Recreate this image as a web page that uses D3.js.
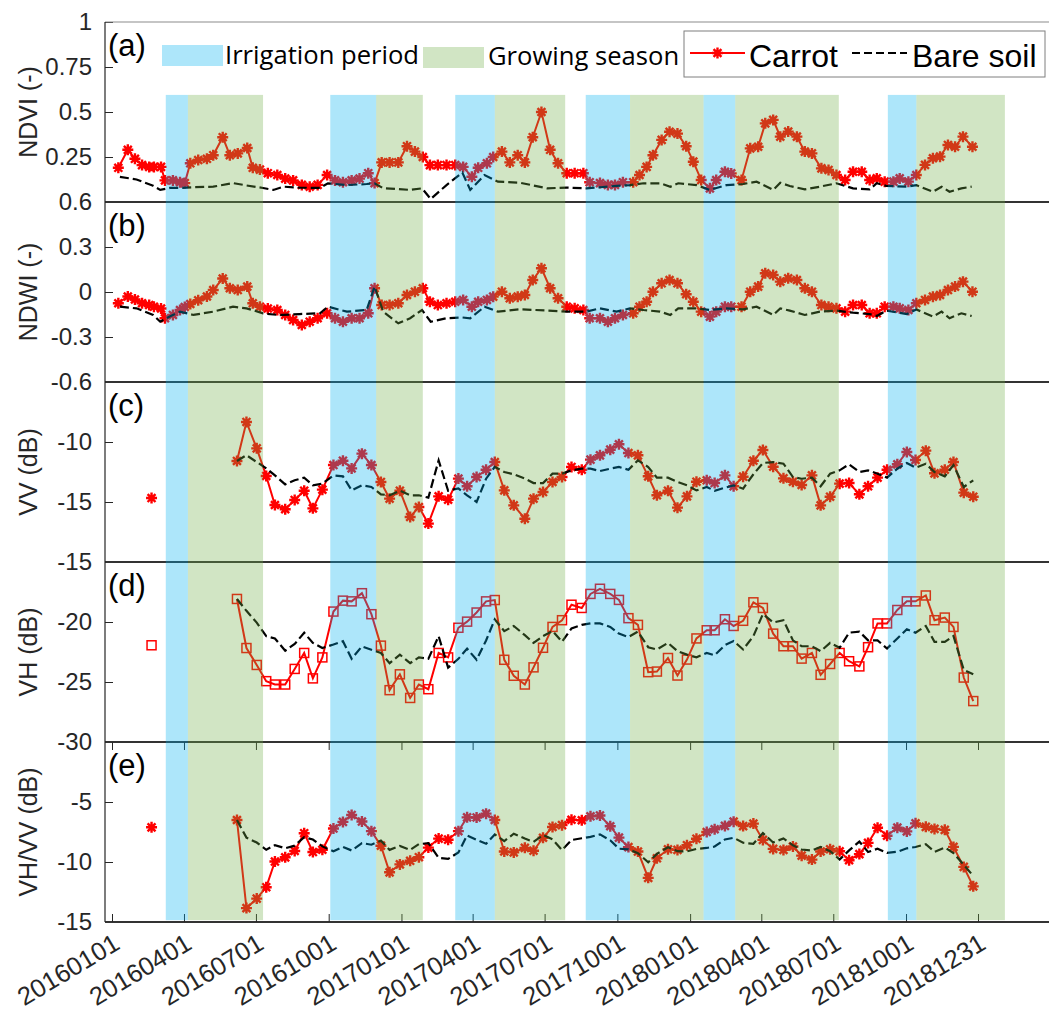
<!DOCTYPE html>
<html>
<head>
<meta charset="utf-8">
<script src="https://cdn.jsdelivr.net/npm/d3@7"></script>
<style>
  body { margin: 0; background: #fff; }
  svg { display: block; }
</style>
</head>
<body>
<div id="chart"></div>
<script>
// ---- data (days counted from 1 Jan 2016) ----
const tickDates = ['20160101', '20160401', '20160701', '20161001', '20170101', '20170401', '20170701',
  '20171001', '20180101', '20180401', '20180701', '20181001', '20181231'];

const irrigation = [['20160309', '20160406'], ['20161003', '20161130'], ['20170310', '20170429'],
  ['20170822', '20171017'], ['20180118', '20180227'], ['20180908', '20181014']];
const growing = [['20160406', '20160710'], ['20161130', '20170128'], ['20170429', '20170727'],
  ['20171017', '20180118'], ['20180227', '20180708'], ['20181014', '20190203']];

// optical (Sentinel-2) carrot field
const optDays = [8, 20, 29, 38, 47, 53, 62, 67, 77, 86,
  92, 99, 109, 120, 128, 140, 149, 159, 171, 178,
  187, 197, 209, 219, 229, 240, 250, 260, 272, 282,
  292, 303, 313, 324, 332, 341, 351, 362, 373, 383,
  393, 402, 412, 423, 434, 444, 455, 463, 474, 482,
  493, 503, 513, 522, 532, 543, 554, 564, 575, 585,
  596, 604, 617, 627, 636, 646, 659, 667, 676, 684,
  695, 705, 715, 726, 735, 745, 756, 764, 775, 783,
  796, 807, 817, 826, 836, 845, 855, 866, 876, 885,
  897, 906, 916, 927, 937, 948, 958, 967, 977, 988,
  996, 1007, 1017, 1028, 1038, 1047, 1057, 1066, 1076, 1088];
const ndviCarrot = [0.19, 0.29, 0.24, 0.205, 0.195, 0.195, 0.195, 0.12, 0.12, 0.11,
  0.105, 0.215, 0.233, 0.24, 0.26, 0.36, 0.26, 0.27, 0.30, 0.19,
  0.18, 0.16, 0.15, 0.13, 0.12, 0.095, 0.085, 0.095, 0.15, 0.12,
  0.11, 0.12, 0.13, 0.16, 0.105, 0.22, 0.22, 0.22, 0.31, 0.28,
  0.25, 0.205, 0.205, 0.205, 0.205, 0.195, 0.14, 0.19, 0.215, 0.25,
  0.28, 0.22, 0.26, 0.22, 0.36, 0.50, 0.29, 0.215, 0.16, 0.16,
  0.16, 0.11, 0.105, 0.095, 0.095, 0.11, 0.11, 0.15, 0.195, 0.26,
  0.345, 0.39, 0.38, 0.31, 0.224, 0.122, 0.076, 0.122, 0.168, 0.159,
  0.122, 0.298, 0.307, 0.437, 0.456, 0.363, 0.391, 0.363, 0.28, 0.27,
  0.187, 0.178, 0.15, 0.122, 0.168, 0.168, 0.122, 0.131, 0.113, 0.113,
  0.131, 0.113, 0.15, 0.206, 0.243, 0.252, 0.317, 0.307, 0.363, 0.307];
const ndwiCarrot = [-0.075, -0.03, -0.05, -0.075, -0.087, -0.098, -0.11, -0.175, -0.153, -0.12,
  -0.10, -0.08, -0.055, -0.03, 0.013, 0.09, 0.025, 0.013, 0.036, -0.075,
  -0.098, -0.11, -0.12, -0.153, -0.187, -0.22, -0.198, -0.175, -0.142, -0.175,
  -0.198, -0.175, -0.175, -0.142, 0.025, -0.087, -0.087, -0.075, -0.02, 0.002,
  0.025, -0.065, -0.087, -0.075, -0.065, -0.053, -0.098, -0.065, -0.053, -0.031,
  0.002, -0.042, -0.031, -0.02, 0.08, 0.158, 0.025, -0.042, -0.098, -0.109,
  -0.12, -0.175, -0.175, -0.198, -0.175, -0.153, -0.142, -0.098, -0.065, 0.002,
  0.058, 0.08, 0.058, -0.015, -0.065, -0.131, -0.164, -0.131, -0.098, -0.098,
  -0.098, 0.002, 0.036, 0.125, 0.113, 0.069, 0.091, 0.08, 0.025, 0.002,
  -0.087, -0.098, -0.109, -0.131, -0.087, -0.087, -0.142, -0.142, -0.098, -0.098,
  -0.109, -0.12, -0.075, -0.053, -0.031, -0.02, 0.013, 0.036, 0.069, 0.002];

// optical bare soil
const bareOptDays = [10, 31, 52, 61, 73, 86, 103, 128, 153, 170,
  191, 204, 217, 237, 263, 273, 297, 322, 332, 343,
  362, 377, 392, 403, 423, 443, 453, 471, 488, 516,
  550, 575, 600, 617, 638, 655, 672, 693, 706, 716,
  739, 756, 777, 798, 815, 836, 845, 857, 876, 895,
  916, 937, 958, 967, 979, 1005, 1017, 1038, 1049, 1059,
  1074, 1087];
const ndviBare = [0.14, 0.125, 0.09, 0.067, 0.078, 0.078, 0.082, 0.085, 0.105, 0.092,
  0.078, 0.067, 0.085, 0.08, 0.078, 0.104, 0.094, 0.1, 0.104, 0.076,
  0.072, 0.067, 0.076, 0.017, 0.094, 0.163, 0.067, 0.15, 0.113, 0.107,
  0.076, 0.08, 0.076, 0.082, 0.09, 0.094, 0.104, 0.104, 0.085, 0.104,
  0.094, 0.067, 0.094, 0.1, 0.113, 0.067, 0.107, 0.089, 0.07, 0.085,
  0.104, 0.076, 0.07, 0.104, 0.09, 0.085, 0.094, 0.057, 0.085, 0.057,
  0.076, 0.085];
const ndwiBare = [-0.098, -0.109, -0.153, -0.198, -0.164, -0.131, -0.153, -0.131, -0.098, -0.109,
  -0.142, -0.15, -0.153, -0.147, -0.142, -0.098, -0.131, -0.12, 0.036, -0.131,
  -0.209, -0.175, -0.12, -0.198, -0.175, -0.17, -0.175, -0.098, -0.131, -0.115,
  -0.124, -0.131, -0.131, -0.109, -0.131, -0.109, -0.12, -0.131, -0.153, -0.109,
  -0.109, -0.12, -0.109, -0.116, -0.098, -0.153, -0.109, -0.124, -0.153, -0.131,
  -0.124, -0.138, -0.147, -0.16, -0.124, -0.147, -0.116, -0.164, -0.131, -0.175,
  -0.142, -0.16];

// SAR (Sentinel-1), one early lone acquisition for the carrot field
const loneDay = 50;
const vvLone = -14.67, vhLone = -21.94, ratioLone = -7.11;
const sarDays = [158, 170, 183, 195, 206, 219, 231, 243, 254, 266,
  280, 292, 303, 316, 328, 340, 351, 364, 377, 388,
  400, 413, 425, 438, 449, 461, 473, 484, 496, 508,
  522, 533, 545, 557, 569, 581, 594, 605, 617, 630,
  641, 653, 665, 678, 689, 703, 715, 727, 739, 752,
  762, 775, 786, 798, 811, 823, 836, 849, 861, 872,
  885, 896, 908, 920, 932, 945, 956, 968, 980, 993,
  1005, 1016, 1029, 1040, 1053, 1064, 1077, 1089];
const vvCarrot = [-11.58, -8.33, -10.53, -12.83, -15.25, -15.6, -14.83, -14.06, -15.53, -13.97,
  -11.92, -11.56, -12.2, -10.97, -11.92, -13.33, -14.72, -14.06, -16.25, -15.42,
  -16.8, -14.53, -14.81, -13.05, -13.69, -12.92, -12.31, -11.67, -14.03, -15.28,
  -16.39, -14.72, -14.17, -13.33, -12.92, -12.08, -12.31, -11.47, -11.11, -10.64,
  -10.19, -10.92, -11.11, -12.86, -14.44, -14.06, -15.47, -14.53, -13.31, -13.19,
  -13.42, -12.78, -13.69, -12.89, -11.56, -10.67, -12.06, -13.03, -13.31, -13.58,
  -12.78, -15.28, -14.56, -13.47, -13.42, -14.36, -13.69, -12.97, -12.31, -11.86,
  -10.83, -11.5, -10.72, -12.61, -12.31, -11.67, -14.22, -14.56];
const vvBare = [-11.58, -11.1, -11.67, -12.2, -12.78, -13.53, -13.19, -12.97, -13.61, -13.47,
  -12.78, -12.86, -14.03, -13.61, -13.75, -14.36, -14.44, -14.06, -14.44, -14.44,
  -14.64, -11.53, -14.06, -13.86, -14.44, -15.0, -13.06, -12.08, -12.5, -12.69,
  -13.05, -13.42, -13.42, -12.64, -12.64, -12.36, -12.22, -12.22, -12.42, -12.22,
  -12.08, -12.31, -11.53, -12.08, -12.97, -12.97, -13.33, -13.61, -14.03, -13.75,
  -14.06, -13.81, -13.61, -13.89, -12.69, -11.75, -11.67, -11.81, -12.92, -13.06,
  -12.97, -13.69, -12.64, -12.36, -11.86, -12.5, -12.36, -12.64, -12.97, -12.22,
  -11.75, -12.14, -11.81, -12.5, -12.86, -11.92, -13.75, -13.19];
const vhCarrot = [-18.08, -22.17, -23.58, -24.93, -25.21, -25.21, -23.91, -22.58, -24.7, -22.95,
  -19.13, -18.22, -18.28, -17.6, -19.35, -21.97, -25.68, -24.36, -26.33, -25.21,
  -25.6, -22.58, -22.95, -20.48, -19.97, -19.21, -18.28, -18.17, -23.15, -24.48,
  -25.21, -23.78, -22.15, -20.41, -19.85, -18.56, -18.83, -17.66, -17.23, -17.66,
  -18.16, -19.68, -20.24, -24.18, -24.13, -23.0, -24.46, -23.13, -21.37, -20.69,
  -20.69, -19.77, -20.33, -19.9, -18.36, -18.83, -20.97, -22.02, -22.02, -23.05,
  -22.58, -24.4, -23.5, -22.58, -23.27, -23.7, -22.1, -20.12, -20.12, -19.0,
  -18.28, -18.28, -17.79, -19.85, -19.63, -20.41, -24.63, -26.59];
const vhBare = [-18.08, -19.07, -20.05, -21.18, -21.37, -22.39, -21.83, -20.9, -21.74, -22.17,
  -21.88, -21.6, -23.07, -22.03, -22.31, -22.58, -23.43, -22.72, -23.43, -22.95,
  -23.07, -21.18, -23.8, -23.07, -22.22, -23.15, -21.54, -19.78, -20.76, -20.33,
  -21.1, -21.74, -21.17, -20.75, -21.65, -20.53, -20.24, -20.12, -20.12, -20.41,
  -20.97, -21.25, -20.8, -22.1, -22.29, -21.74, -22.43, -22.72, -22.94, -22.58,
  -22.77, -21.93, -21.59, -22.29, -21.17, -19.34, -20.04, -19.85, -21.53, -22.02,
  -22.02, -22.43, -21.74, -22.15, -20.89, -20.8, -21.53, -21.53, -22.21, -21.37,
  -20.61, -20.89, -20.33, -21.65, -21.65, -21.17, -23.99, -24.35];
const ratioCarrot = [-6.5, -13.84, -13.05, -12.1, -9.96, -9.61, -9.08, -7.6, -9.17, -8.98,
  -7.21, -6.66, -6.08, -6.63, -7.43, -8.64, -10.86, -10.2, -9.9, -9.6,
  -8.8, -8.05, -8.14, -7.43, -6.28, -6.29, -5.97, -6.5, -9.12, -9.2,
  -8.82, -9.06, -7.98, -7.08, -6.93, -6.48, -6.52, -6.19, -6.12, -7.02,
  -7.97, -8.76, -9.13, -11.32, -9.69, -8.94, -8.99, -8.6, -8.06, -7.5,
  -7.27, -6.99, -6.64, -7.01, -6.8, -8.16, -8.91, -8.99, -8.71, -9.47,
  -9.8, -9.12, -8.94, -9.11, -9.85, -9.34, -8.41, -7.15, -7.81, -7.14,
  -7.45, -6.78, -7.07, -7.24, -7.32, -8.74, -10.41, -12.03];
const ratioBare = [-6.5, -7.97, -8.38, -8.98, -8.59, -8.86, -8.64, -7.93, -8.13, -8.7,
  -9.1, -8.74, -9.04, -8.42, -8.56, -8.22, -8.99, -8.66, -8.99, -8.51,
  -8.43, -9.65, -9.74, -9.21, -7.78, -8.15, -8.48, -7.7, -8.26, -7.64,
  -8.05, -8.32, -7.75, -8.11, -9.01, -8.17, -8.02, -7.9, -7.7, -8.19,
  -8.89, -8.94, -9.27, -10.02, -9.32, -8.77, -9.1, -9.11, -8.91, -8.83,
  -8.71, -8.12, -7.98, -8.4, -8.48, -7.59, -8.37, -8.04, -8.61, -8.96,
  -9.05, -8.74, -9.1, -9.79, -9.03, -8.3, -9.17, -8.89, -9.24, -9.15,
  -8.86, -8.75, -8.52, -9.15, -8.79, -9.25, -10.24, -11.16];

// panel setup
const panelTags = ['(a)', '(b)', '(c)', '(d)', '(e)'];
const yTitles = ['NDVI (-)', 'NDWI (-)', 'VV (dB)', 'VH (dB)', 'VH/VV (dB)'];
const yDomains = [[0, 1], [-0.6, 0.6], [-20, -5], [-30, -15], [-15, 0]];
const yTicks = [[0.25, 0.5, 0.75, 1], [0.6, 0.3, 0, -0.3, -0.6], [-10, -15], [-15, -20, -25, -30], [-5, -10, -15]];

// ---- drawing ----
const parse = d3.timeParse('%Y%m%d');
const t0 = parse('20160101');
const toDate = n => d3.timeDay.offset(t0, n);

const width = 1049, height = 1015;
const plotLeft = 105, plotRight = 1049, plotTop = 22, panelH = 180;
const axisFont = '"Liberation Sans", Arial, sans-serif';
const ink = '#262626';
const carrotRed = '#ff0000';

const x = d3.scaleTime().domain([t0, parse('20181231')]).range([112, 978]);

const svg = d3.select('#chart').append('svg')
  .attr('width', width).attr('height', height)
  .style('background', '#fff');

const star = r => {
  const k = r * 0.72;
  return `M${-r},0H${r}M0,${-r}V${r}M${-k},${-k}L${k},${k}M${-k},${k}L${k},${-k}`;
};

const panels = [
  {carrot: [optDays, ndviCarrot], bare: [bareOptDays, ndviBare], marker: 'star'},
  {carrot: [optDays, ndwiCarrot], bare: [bareOptDays, ndwiBare], marker: 'star'},
  {carrot: [sarDays, vvCarrot], bare: [sarDays, vvBare], lone: vvLone, marker: 'star'},
  {carrot: [sarDays, vhCarrot], bare: [sarDays, vhBare], lone: vhLone, marker: 'square'},
  {carrot: [sarDays, ratioCarrot], bare: [sarDays, ratioBare], lone: ratioLone, marker: 'star'}
];

const ys = [];
const dataLayer = svg.append('g');
const frameLayer = svg.append('g');

panels.forEach((p, i) => {
  const top = plotTop + i * panelH;
  const y = d3.scaleLinear().domain(yDomains[i]).range([top + panelH, top]);
  ys.push(y);

  // y axis
  const ax = frameLayer.append('g')
    .attr('transform', `translate(${plotLeft},0)`)
    .call(d3.axisLeft(y).tickValues(yTicks[i]).tickSize(-8).tickPadding(13).tickFormat(d => String(d)))
    .attr('font-family', axisFont)
    .attr('font-size', 24);
  ax.select('.domain').remove();
  ax.selectAll('line').attr('stroke', ink);
  ax.selectAll('text').attr('fill', ink);

  // y title
  frameLayer.append('text')
    .attr('transform', `translate(37,${top + panelH / 2}) rotate(-90)`)
    .attr('text-anchor', 'middle')
    .attr('font-family', axisFont)
    .attr('font-size', 25)
    .attr('fill', ink)
    .text(yTitles[i]);

  // panel tag
  frameLayer.append('text')
    .attr('x', plotLeft + 3).attr('y', top + 34)
    .attr('font-family', axisFont)
    .attr('font-size', 31)
    .attr('fill', '#000')
    .text(panelTags[i]);

  const g = dataLayer.append('g');
  const line = d3.line().x(d => x(toDate(d[0]))).y(d => y(d[1]));

  // carrot
  const cData = d3.zip(p.carrot[0], p.carrot[1]);
  g.append('path').datum(cData)
    .attr('d', line)
    .attr('fill', 'none')
    .attr('stroke', carrotRed)
    .attr('stroke-width', 2);
  const mData = p.lone !== undefined ? [[loneDay, p.lone]].concat(cData) : cData;
  if (p.marker === 'star') {
    g.selectAll('path.mk').data(mData).join('path')
      .attr('class', 'mk')
      .attr('transform', d => `translate(${x(toDate(d[0]))},${y(d[1])})`)
      .attr('d', star(5.5))
      .attr('stroke', carrotRed)
      .attr('stroke-width', 2.4)
      .attr('fill', 'none');
  } else {
    g.selectAll('rect.mk').data(mData).join('rect')
      .attr('class', 'mk')
      .attr('x', d => x(toDate(d[0])) - 4.5)
      .attr('y', d => y(d[1]) - 4.5)
      .attr('width', 9).attr('height', 9)
      .attr('stroke', carrotRed)
      .attr('stroke-width', 1.5)
      .attr('fill', 'none');
  }

  // bare soil
  g.append('path').datum(d3.zip(p.bare[0], p.bare[1]))
    .attr('d', line)
    .attr('fill', 'none')
    .attr('stroke', '#000')
    .attr('stroke-width', 2.2)
    .attr('stroke-dasharray', '9,4');
});

// panel frames
const boundaries = d3.range(1, 6).map(i => plotTop + i * panelH);
frameLayer.append('line')
  .attr('x1', plotLeft).attr('x2', plotRight)
  .attr('y1', plotTop).attr('y2', plotTop)
  .attr('stroke', '#8c8c8c').attr('stroke-width', 1.2);
frameLayer.selectAll('line.div').data(boundaries).join('line')
  .attr('class', 'div')
  .attr('x1', plotLeft).attr('x2', plotRight)
  .attr('y1', d => d).attr('y2', d => d)
  .attr('stroke', '#333').attr('stroke-width', 2);
frameLayer.append('line')
  .attr('x1', plotLeft).attr('x2', plotLeft)
  .attr('y1', plotTop).attr('y2', plotTop + 5 * panelH)
  .attr('stroke', ink).attr('stroke-width', 1.2);

// x axis (bottom panel)
const tickD = tickDates.map(parse);
const bottom = plotTop + 5 * panelH;
const xb = frameLayer.append('g')
  .attr('transform', `translate(0,${bottom})`)
  .call(d3.axisBottom(x).tickValues(tickD).tickSize(-8).tickFormat(d3.timeFormat('%Y%m%d')))
  .attr('font-family', axisFont)
  .attr('font-size', 25.5);
xb.select('.domain').remove();
xb.selectAll('line').attr('stroke', ink);
xb.selectAll('text')
  .attr('fill', ink)
  .attr('x', 0).attr('y', 0).attr('dy', 0)
  .attr('text-anchor', 'end')
  .attr('transform', 'translate(9,26) rotate(-31)');
const xt = frameLayer.append('g')
  .attr('transform', `translate(0,${bottom - panelH})`)
  .call(d3.axisTop(x).tickValues(tickD).tickSize(-8).tickFormat(''));
xt.select('.domain').remove();
xt.selectAll('line').attr('stroke', ink);

// shaded periods, drawn translucent over the series
const bandTop = ys[0](0.595), bandBottom = ys[4](-14.85);
const bandLayer = svg.append('g');
const drawBands = (list, colour) => {
  bandLayer.selectAll(null).data(list).join('rect')
    .attr('x', d => x(parse(d[0])))
    .attr('width', d => x(parse(d[1])) - x(parse(d[0])))
    .attr('y', bandTop)
    .attr('height', bandBottom - bandTop)
    .attr('fill', colour)
    .attr('fill-opacity', 0.32);
};
drawBands(growing, 'rgb(112,173,71)');
drawBands(irrigation, 'rgb(0,176,240)');

// legend
const lg = svg.append('g');
const bandFont = '"Open Sans", "Noto Sans", sans-serif';
lg.append('rect').attr('x', 162).attr('y', 45).attr('width', 61).attr('height', 21)
  .attr('fill', 'rgb(0,176,240)').attr('fill-opacity', 0.32);
lg.append('text').attr('x', 225).attr('y', 64).attr('font-family', bandFont).attr('font-size', 25.6)
  .attr('fill', '#000').text('Irrigation period');
lg.append('rect').attr('x', 423).attr('y', 47).attr('width', 61).attr('height', 21)
  .attr('fill', 'rgb(112,173,71)').attr('fill-opacity', 0.32);
lg.append('text').attr('x', 488).attr('y', 65).attr('font-family', bandFont).attr('font-size', 25.6)
  .attr('fill', '#000').text('Growing season');

lg.append('rect').attr('x', 684).attr('y', 31).attr('width', 361).attr('height', 46)
  .attr('fill', '#fff').attr('stroke', '#7f7f7f').attr('stroke-width', 1);
lg.append('line').attr('x1', 690).attr('x2', 745).attr('y1', 53).attr('y2', 53)
  .attr('stroke', carrotRed).attr('stroke-width', 2);
lg.append('path').attr('transform', 'translate(717.5,53)').attr('d', star(5.5))
  .attr('stroke', carrotRed).attr('stroke-width', 2.4);
lg.append('text').attr('x', 749).attr('y', 67).attr('font-family', axisFont).attr('font-size', 32)
  .attr('fill', '#000').text('Carrot');
lg.append('line').attr('x1', 852).attr('x2', 907).attr('y1', 53).attr('y2', 53)
  .attr('stroke', '#000').attr('stroke-width', 2).attr('stroke-dasharray', '8,4');
lg.append('text').attr('x', 912).attr('y', 67).attr('font-family', axisFont).attr('font-size', 32)
  .attr('fill', '#000').text('Bare soil');
</script>
</body>
</html>
